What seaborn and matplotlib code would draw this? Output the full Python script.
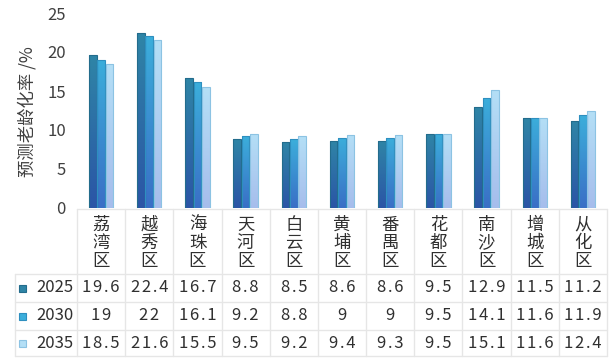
import numpy as np
import pandas as pd
import matplotlib
matplotlib.use("Agg")
import matplotlib.pyplot as plt
from matplotlib.colors import LinearSegmentedColormap
import seaborn as sns

districts = ["荔湾区", "越秀区", "海珠区", "天河区", "白云区", "黄埔区",
             "番禺区", "花都区", "南沙区", "增城区", "从化区"]
years = ["2025", "2030", "2035"]
rate_2025 = [19.6, 22.4, 16.7, 8.8, 8.5, 8.6, 8.6, 9.5, 12.9, 11.5, 11.2]
rate_2030 = [19, 22, 16.1, 9.2, 8.8, 9, 9, 9.5, 14.1, 11.6, 11.9]
rate_2035 = [18.5, 21.6, 15.5, 9.5, 9.2, 9.4, 9.3, 9.5, 15.1, 11.6, 12.4]
table_text = [
    ["19.6", "22.4", "16.7", "8.8", "8.5", "8.6", "8.6", "9.5", "12.9", "11.5", "11.2"],
    ["19", "22", "16.1", "9.2", "8.8", "9", "9", "9.5", "14.1", "11.6", "11.9"],
    ["18.5", "21.6", "15.5", "9.5", "9.2", "9.4", "9.3", "9.5", "15.1", "11.6", "12.4"],
]

# gradient (top, bottom) and edge colour per series
grad = {
    "2025": ("#2f85a6", "#2b55a6", "#236c8c"),
    "2030": ("#3caedb", "#3a6fc6", "#2e8fbf"),
    "2035": ("#b4dff6", "#a6bdec", "#8cc3e3"),
}

df = pd.DataFrame({"district": districts * 3,
                   "year": np.repeat(years, len(districts)),
                   "rate": rate_2025 + rate_2030 + rate_2035})

sns.set_theme(style="white")
plt.rcParams["font.family"] = ["Noto Sans CJK SC", "DejaVu Sans"]


def spaced(s):
    # the table font in the reference is set with loose tracking
    return "\u200a".join(s)


fig = plt.figure(figsize=(6.16, 3.6), dpi=100)
ax = fig.add_axes([77 / 616, 1 - 208 / 360, 530 / 616, 195 / 360])

palette = {y: grad[y][0] for y in years}
sns.barplot(data=df, x="district", y="rate", hue="year", palette=palette,
            width=0.52, gap=0.08, legend=False, ax=ax)

# replace flat fill with vertical gradient
for i, patch in enumerate(ax.patches):
    if i >= 3 * len(districts):
        continue
    yr = years[i // len(districts)]
    top, bot, edge = grad[yr]
    cmap = LinearSegmentedColormap.from_list("g" + yr, [bot, top])
    x0, y0 = patch.get_x(), patch.get_y()
    w, h = patch.get_width(), patch.get_height()
    img = ax.imshow(np.linspace(0, 1, 100).reshape(-1, 1), cmap=cmap,
                    extent=[x0, x0 + w, y0, y0 + h], origin="lower",
                    aspect="auto", zorder=patch.get_zorder())
    img.set_clip_path(patch)
    patch.set_facecolor("none")
    patch.set_edgecolor(edge)
    patch.set_linewidth(0.8)
    patch.set_zorder(patch.get_zorder() + 0.1)

ax.set_xlim(-0.5, len(districts) - 0.5)
ax.set_ylim(0, 25)
ax.set_yticks([0, 5, 10, 15, 20, 25])
ax.tick_params(axis="y", labelsize=12, pad=8, colors="#404040", length=0)
ax.set_xticks([])
ax.set_xlabel("")
ax.set_ylabel("")
for s in ax.spines.values():
    s.set_visible(False)

fig.text(27 / 616, 1 - 112 / 360, "预测老龄化率 /%", rotation=90,
         ha="center", va="center", fontsize=12.5, color="#404040")

# data table drawn in pixel coordinates
tab = fig.add_axes([0, 0, 1, 1], zorder=-1)
tab.set_xlim(0, 616)
tab.set_ylim(360, 0)
tab.axis("off")
lc = "#e6e6e6"
col_left = 77
col_w = 530 / len(districts)
rows = [209, 274, 302, 330, 356]
tab.plot([col_left, 607], [209, 209], color=lc, lw=1)
for yy in rows[1:]:
    tab.plot([15, 607], [yy, yy], color=lc, lw=1)
tab.plot([15, 15], [274, 356], color=lc, lw=1)
for k in range(len(districts) + 1):
    xx = col_left + k * col_w
    tab.plot([xx, xx], [209, 356], color=lc, lw=1)

for k, name in enumerate(districts):
    cx = col_left + (k + 0.5) * col_w
    tab.text(cx, 243, "\n".join(name), ha="center", va="center",
             fontsize=12.5, linespacing=1.02, color="#303030")
for r, yr in enumerate(years):
    cy = (rows[r + 1] + rows[r + 2]) / 2
    top, bot, edge = grad[yr]
    tab.add_patch(plt.Rectangle((19, cy - 3.5), 7, 7, facecolor=top,
                                edgecolor=edge, lw=0.8))
    tab.text(55, cy, yr, ha="center", va="center", fontsize=12,
             color="#303030")
    for k, v in enumerate(table_text[r]):
        cx = col_left + (k + 0.5) * col_w
        tab.text(cx, cy, spaced(v), ha="center", va="center", fontsize=12,
                 color="#303030")

fig.savefig("out.png", dpi=100)
